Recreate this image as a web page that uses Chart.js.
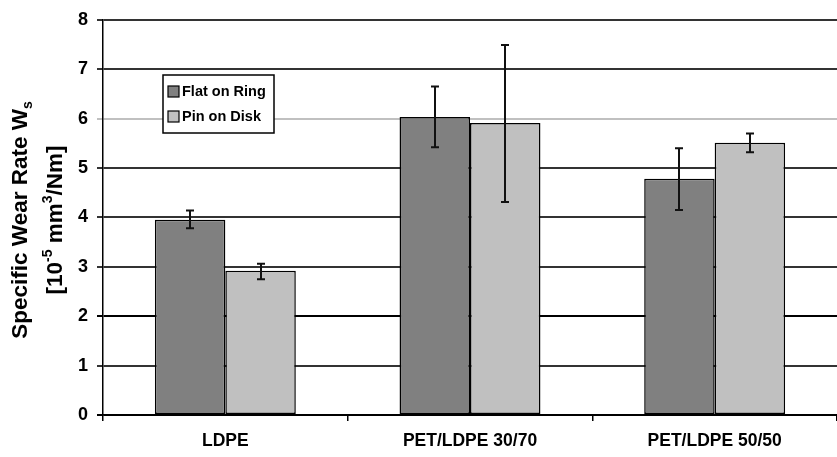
<!DOCTYPE html>
<html>
<head>
<meta charset="utf-8">
<script src="https://cdn.jsdelivr.net/npm/chart.js@4.4.0/dist/chart.umd.min.js"></script>
<style>
  html, body { margin: 0; padding: 0; background: #fff; }
  #wrap { width: 837px; height: 457px; }
</style>
</head>
<body>
<div id="wrap"><canvas id="chart"></canvas></div>
<script>
// Data
const categories = ['LDPE', 'PET/LDPE 30/70', 'PET/LDPE 50/50'];
const seriesNames = ['Flat on Ring', 'Pin on Disk'];
const flatValues = [3.95, 6.03, 4.78];
const pinValues = [2.92, 5.91, 5.51];
const flatLow = [3.78, 5.42, 4.15];
const flatHigh = [4.14, 6.65, 5.40];
const pinLow = [2.75, 4.31, 5.32];
const pinHigh = [3.06, 7.49, 5.70];
const yTicks = [0, 1, 2, 3, 4, 5, 6, 7, 8];

const FONT = '"Liberation Sans", Arial, sans-serif';

// grid line colours per tick (the 6 line is light in the original)
const gridColors = ['#000', '#333', '#000', '#333', '#333', '#333', '#c0c0c0', '#333', '#333'];

// Error bars, drawn through the scales
const errorBars = {
  id: 'errorBars',
  afterDatasetsDraw(chart) {
    const ctx = chart.ctx;
    const y = chart.scales.y;
    ctx.save();
    ctx.strokeStyle = '#111';
    ctx.lineWidth = 2;
    chart.data.datasets.forEach((ds, i) => {
      const meta = chart.getDatasetMeta(i);
      meta.data.forEach((bar, j) => {
        const top = y.getPixelForValue(ds.errHigh[j]);
        const bot = y.getPixelForValue(ds.errLow[j]);
        const x = Math.round(bar.x);
        ctx.beginPath();
        ctx.moveTo(x, top); ctx.lineTo(x, bot);
        ctx.moveTo(x - 4, top); ctx.lineTo(x + 4, top);
        ctx.moveTo(x - 4, bot); ctx.lineTo(x + 4, bot);
        ctx.stroke();
      });
    });
    ctx.restore();
  }
};

// Boxed legend inside the plot, plus the rotated y title with super/subscripts
const decorations = {
  id: 'decorations',
  afterDraw(chart) {
    const ctx = chart.ctx;
    ctx.save();
    // legend box
    const lx = 163, ly = 75, lw = 111, lh = 58;
    ctx.fillStyle = '#fff';
    ctx.fillRect(lx, ly, lw, lh);
    ctx.strokeStyle = '#000';
    ctx.lineWidth = 1.5;
    ctx.strokeRect(lx, ly, lw, lh);
    ctx.font = 'bold 14.5px ' + FONT;
    ctx.textBaseline = 'middle';
    chart.data.datasets.forEach((ds, i) => {
      const cy = ly + 16 + i * 25;
      ctx.fillStyle = ds.backgroundColor;
      ctx.fillRect(lx + 5, cy - 5, 11, 11);
      ctx.lineWidth = 1.2;
      ctx.strokeRect(lx + 5, cy - 5, 11, 11);
      ctx.fillStyle = '#000';
      ctx.fillText(ds.label, lx + 19, cy + 1);
    });

    // y title
    const cyMid = 220;
    ctx.rotate(-Math.PI / 2);
    ctx.fillStyle = '#000';
    ctx.textBaseline = 'alphabetic';
    const big = 'bold 22.5px ' + FONT, small = 'bold 14px ' + FONT;
    const parts1 = [['Specific Wear Rate W', big, 0], ['s', small, 5]];
    const parts2 = [['[10', big, 0], ['-5', small, -10], [' mm', big, 0], ['3', small, -10], ['/Nm]', big, 0]];
    [[parts1, 27], [parts2, 62]].forEach(([parts, base]) => {
      let w = 0;
      parts.forEach(p => { ctx.font = p[1]; w += ctx.measureText(p[0]).width; });
      let x = -cyMid - w / 2;
      parts.forEach(p => {
        ctx.font = p[1];
        ctx.fillText(p[0], x, base + p[2]);
        x += ctx.measureText(p[0]).width;
      });
    });
    ctx.restore();
  }
};

new Chart(document.getElementById('chart'), {
  type: 'bar',
  data: {
    labels: categories,
    datasets: [
      {
        label: seriesNames[0], data: flatValues, errLow: flatLow, errHigh: flatHigh,
        backgroundColor: '#808080', borderColor: '#000', borderWidth: 1.5, borderSkipped: false
      },
      {
        label: seriesNames[1], data: pinValues, errLow: pinLow, errHigh: pinHigh,
        backgroundColor: '#c0c0c0', borderColor: '#000', borderWidth: 1.5, borderSkipped: false
      }
    ]
  },
  options: {
    responsive: true,
    maintainAspectRatio: false,
    animation: false,
    devicePixelRatio: 1,
    layout: { padding: { top: 10, right: 0, left: 0, bottom: 0 } },
    datasets: { bar: { categoryPercentage: 0.576, barPercentage: 1 } },
    plugins: { legend: { display: false }, tooltip: { enabled: false } },
    scales: {
      x: {
        afterFit(s) { s.height = 42; },
        grid: { drawOnChartArea: false, drawTicks: true, tickLength: 6, color: '#000', offset: true, lineWidth: 1.5 },
        border: { color: '#000', width: 1.5 },
        ticks: { color: '#000', font: { family: FONT, weight: 'bold', size: 17.5 }, padding: 10 }
      },
      y: {
        min: 0, max: 8,
        afterFit(s) { s.width = 103; },
        afterBuildTicks(s) { s.ticks = yTicks.map(v => ({ value: v })); },
        grid: {
          color: c => gridColors[c.index] || '#333',
          lineWidth: 2, tickLength: 6
        },
        border: { color: '#000', width: 1.5 },
        ticks: { color: '#000', font: { family: FONT, weight: 'bold', size: 18 }, padding: 9 }
      }
    }
  },
  plugins: [errorBars, decorations]
});
</script>
</body>
</html>
